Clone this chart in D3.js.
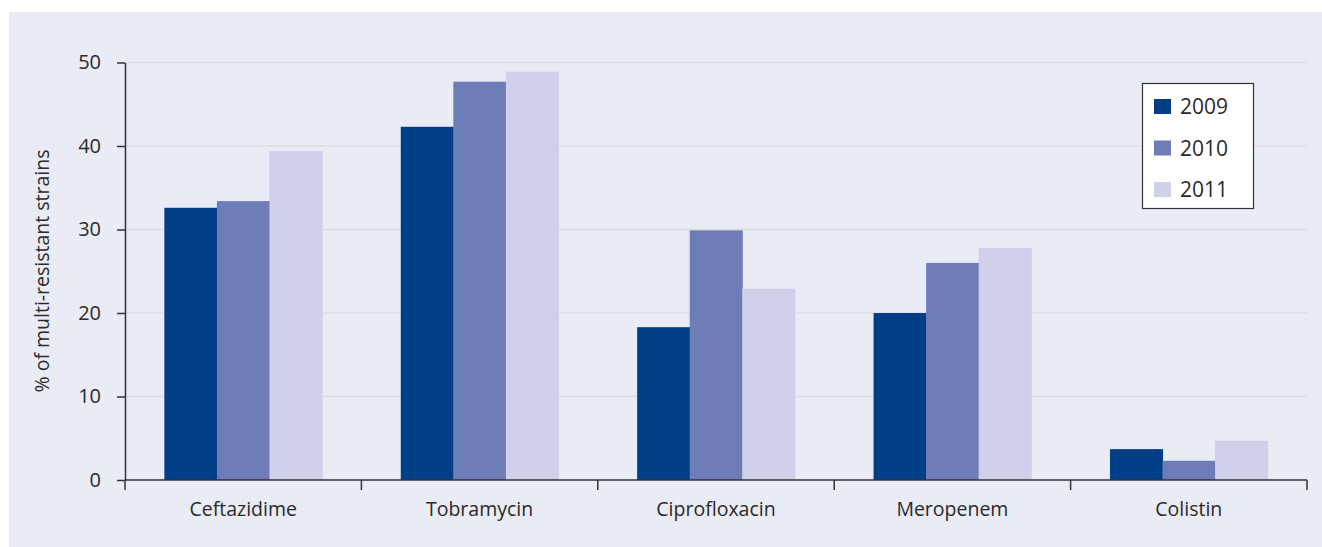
<!DOCTYPE html>
<html><head><meta charset="utf-8">
<script src="https://cdn.jsdelivr.net/npm/d3@7"></script>
<style>body{margin:0;background:#fff}svg{display:block}</style>
</head><body>
<svg id="c" width="1322" height="547"></svg>
<script>
const categories = ["Ceftazidime","Tobramycin","Ciprofloxacin","Meropenem","Colistin"];
const years = ["2009","2010","2011"];
const v2009 = [32.6, 42.3, 18.3, 20.0, 3.7];
const v2010 = [33.4, 47.7, 29.9, 26.0, 2.3];
const v2011 = [39.4, 48.9, 22.9, 27.8, 4.7];
const yTicks = [0,10,20,30,40,50];
const colors = ["#003f87","#6e7db7","#cfd0ea"];
const series = [v2009, v2010, v2011];

const svg = d3.select("#c");
const font = "'Open Sans', sans-serif";
svg.append("rect").attr("x",9).attr("y",12).attr("width",1313).attr("height",535).attr("fill","#e9ebf5");

const L=125, R=1307, T=62.5, B=480;
const x = d3.scaleBand().domain(categories).range([L,R]).paddingInner(0.333).paddingOuter(0.1665);
const xs = d3.scaleBand().domain(years).range([0,x.bandwidth()]);
const y = d3.scaleLinear().domain([0,50]).range([B,T]);

// grid
svg.append("g").selectAll("line").data(yTicks.filter(d=>d>0)).join("line")
  .attr("x1",L).attr("x2",R).attr("y1",d=>y(d)).attr("y2",d=>y(d))
  .attr("stroke","#dcdce3").attr("stroke-width",1.5);

// bars
const rows = categories.map((c,i)=>({c, vals: series.map((s,j)=>({yr:years[j], v:s[i], col:colors[j]}))}));
svg.append("g").selectAll("g").data(rows).join("g")
  .attr("transform",d=>`translate(${x(d.c)},0)`)
  .selectAll("rect").data(d=>d.vals).join("rect")
  .attr("x",d=>xs(d.yr)).attr("width",xs.bandwidth()+0.5)
  .attr("y",d=>y(d.v)).attr("height",d=>B-y(d.v)).attr("fill",d=>d.col);

// y axis
const ya = svg.append("g").attr("transform",`translate(${L},0)`)
  .call(d3.axisLeft(y).tickValues(yTicks).tickSize(8).tickPadding(16).tickSizeOuter(0));
ya.select(".domain").attr("stroke","#333").attr("stroke-width",1.5);
ya.selectAll(".tick line").attr("stroke","#333").attr("stroke-width",1.5);
ya.selectAll(".tick text").attr("font-family",font).attr("font-size",20).attr("fill","#2a2a2a");

// x axis
const xa = svg.append("g").attr("transform",`translate(0,${B})`);
xa.append("line").attr("x1",L).attr("x2",R).attr("stroke","#333").attr("stroke-width",1.5);
const bounds = categories.map(c=>x(c)-x.step()*x.paddingInner()/2).concat([R]);
bounds[0]=L;
xa.selectAll("line.t").data(bounds).join("line").attr("class","t")
  .attr("x1",d=>d).attr("x2",d=>d).attr("y1",0).attr("y2",10).attr("stroke","#333").attr("stroke-width",1.5);
xa.selectAll("text").data(categories).join("text")
  .attr("x",d=>x(d)+x.bandwidth()/2).attr("y",36).attr("text-anchor","middle")
  .attr("font-family",font).attr("font-size",19.5).attr("fill","#2a2a2a").text(d=>d);

// y label
svg.append("text").attr("transform","translate(49,271) rotate(-90)").attr("text-anchor","middle")
  .attr("font-family",font).attr("font-size",19.5).attr("fill","#2a2a2a").text("% of multi-resistant strains");

// legend
const lg = svg.append("g");
lg.append("rect").attr("x",1142.5).attr("y",83.5).attr("width",111).attr("height",125)
  .attr("fill","#fff").attr("stroke","#333").attr("stroke-width",1.2);
const li = lg.selectAll("g").data(years).join("g").attr("transform",(d,i)=>`translate(1154,${99+i*41.5})`);
li.append("rect").attr("width",17).attr("height",15).attr("fill",(d,i)=>colors[i]);
li.append("text").attr("x",26).attr("y",15).attr("font-family",font).attr("font-size",21).attr("fill","#2a2a2a").text(d=>d);
</script>
</body></html>
